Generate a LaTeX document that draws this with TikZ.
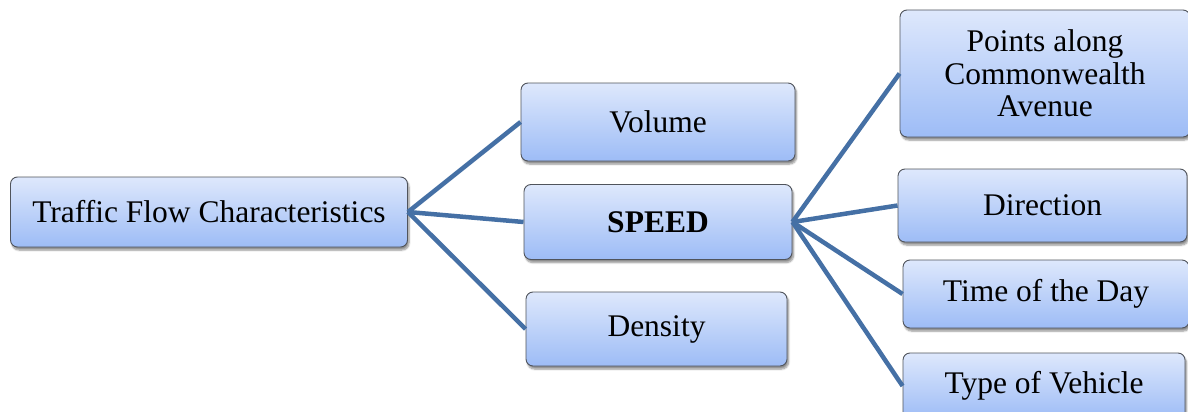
\documentclass[tikz,border=0pt]{standalone}
\usepackage{fontspec}
\setmainfont{Liberation Serif}
\usetikzlibrary{shadows.blur}
\definecolor{linkblue}{RGB}{69,112,165}
\definecolor{boxtop}{RGB}{222,232,252}
\definecolor{boxbottom}{RGB}{157,188,246}
\definecolor{boxedge}{RGB}{80,84,92}
\tikzset{
  item/.style={draw=boxedge, line width=0.9pt, rounded corners=7pt,
    top color=boxtop, bottom color=boxbottom,
    blur shadow={shadow xshift=1.5pt, shadow yshift=-3pt, shadow blur steps=6, shadow opacity=45},
    align=center, inner sep=0pt,
    font=\fontsize{31.5}{32.5}\selectfont},
  link/.style={draw=linkblue, line width=4.5pt}
}
\begin{document}
\begin{tikzpicture}[x=1pt,y=-1pt]
  \useasboundingbox (0,0) rectangle (1188,412);
  \clip (0,0) rectangle (1188,412);

  % root and first level
  \node[item, minimum width=397pt, minimum height=70pt] (root) at (209,212) {Traffic Flow Characteristics};
  \node[item, minimum width=274pt, minimum height=78pt] (volume) at (658,122) {Volume};
  \node[item, minimum width=268pt, minimum height=75pt] (speed) at (658,222) {\textbf{SPEED}};
  \node[item, minimum width=261pt, minimum height=74pt] (density) at (656.5,329) {Density};

  % second level under SPEED
  \node[item, minimum width=290pt, minimum height=127pt] (points) at (1045,73.5) {Points along\\Commonwealth\\Avenue};
  \node[item, minimum width=289pt, minimum height=73pt] (direction) at (1042.5,205.5) {Direction};
  \node[item, minimum width=286pt, minimum height=68pt] (time) at (1046,294) {Time of the Day};
  \node[item, minimum width=282pt, minimum height=66pt] (vehicle) at (1044,386) {Type of Vehicle};

  % connectors
  \draw[link] (root.east) -- (volume.west);
  \draw[link] (root.east) -- (speed.west);
  \draw[link] (root.east) -- (density.west);
  \draw[link] (speed.east) -- (points.west);
  \draw[link] (speed.east) -- (direction.west);
  \draw[link] (speed.east) -- (time.west);
  \draw[link] (speed.east) -- (vehicle.west);
\end{tikzpicture}
\end{document}
